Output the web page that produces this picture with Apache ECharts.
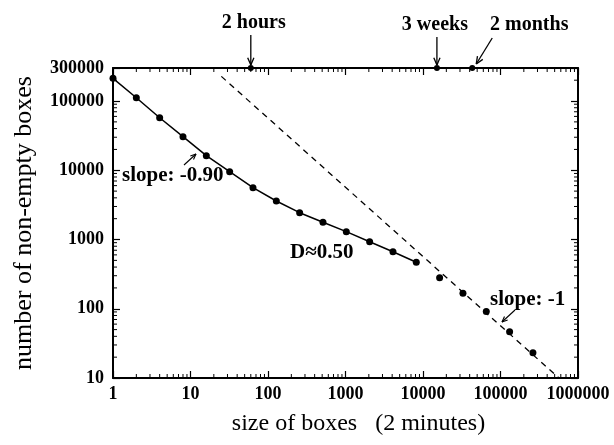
<!DOCTYPE html>
<html><head><meta charset="utf-8">
<script src="https://cdn.jsdelivr.net/npm/echarts@6/dist/echarts.min.js"></script>
<style>html,body{margin:0;padding:0;background:#fff}#c{width:614px;height:445px}</style>
</head><body><div id="c"></div>
<script>
// ---- data ----
const boxSizes  = [1, 2, 4, 8, 16, 32, 64, 128, 256, 512, 1024, 2048, 4096, 8192];
const boxCounts = [213000, 111700, 57400, 30550, 16250, 9540, 5610, 3600, 2440, 1772, 1298, 930, 667, 469];
const tailSizes  = [16384, 32768, 65536, 131072, 262144];
const tailCounts = [281, 167, 91, 46.6, 23.2];
const fitX = [25, 568000];
const fitY = [227000, 10];
const markSizes  = [60, 15120, 43200];
const markLabels = ['2 hours', '3 weeks', '2 months'];
const xMin = 1, xMax = 1000000;
const yMin = 10, yMax = 300000;

const FONT = 'Liberation Serif';
const chart = echarts.init(document.getElementById('c'), null, {renderer: 'canvas'});

function axisBase() {
  return {
    type: 'log', logBase: 10,
    axisLine: {show: true, onZero: false, lineStyle: {color: '#000', width: 2}},
    axisTick: {show: true, inside: true, length: 7, lineStyle: {color: '#000', width: 1.2}},
    minorTick: {show: false},
    splitLine: {show: false}
  };
}
const labelStyle = {fontFamily: FONT, fontWeight: 'bold', fontSize: 18, color: '#000',
  formatter: v => String(Math.round(v))};

chart.setOption({
  animation: false,
  backgroundColor: '#fff',
  grid: {left: 113, right: 36, top: 68, bottom: 67, containLabel: false},
  xAxis: [
    Object.assign(axisBase(), {position: 'bottom', min: xMin, max: xMax,
      axisLabel: Object.assign({margin: 7}, labelStyle),
      name: 'size of boxes   (2 minutes)', nameLocation: 'middle', nameGap: 34,
      nameTextStyle: {fontFamily: FONT, fontSize: 24, color: '#000', padding: [0, 0, 0, 26]}}),
    Object.assign(axisBase(), {position: 'top', min: xMin, max: xMax, axisLabel: {show: false}})
  ],
  yAxis: [
    Object.assign(axisBase(), {position: 'left', min: yMin, max: yMax,
      axisLabel: Object.assign({margin: 9}, labelStyle),
      name: 'number of non-empty boxes', nameLocation: 'middle', nameGap: 76,
      nameTextStyle: {fontFamily: FONT, fontSize: 26, color: '#000'}}),
    Object.assign(axisBase(), {position: 'right', min: yMin, max: yMax, axisLabel: {show: false}})
  ],
  series: [
    {type: 'line', clip: false, data: boxSizes.map((x, i) => [x, boxCounts[i]]),
      symbol: 'circle', symbolSize: 7, showSymbol: true,
      lineStyle: {color: '#000', width: 1.5}, itemStyle: {color: '#000', opacity: 1}, z: 3},
    {type: 'scatter', clip: false, data: tailSizes.map((x, i) => [x, tailCounts[i]]),
      symbol: 'circle', symbolSize: 7, itemStyle: {color: '#000', opacity: 1}, z: 3},
    {type: 'line', clip: false, data: fitX.map((x, i) => [x, fitY[i]]),
      symbol: 'none', lineStyle: {color: '#000', width: 1.3, type: [6, 5]}, z: 2},
    {type: 'scatter', clip: false, data: markSizes.map(x => [x, yMax]),
      symbol: 'circle', symbolSize: 6, itemStyle: {color: '#000', opacity: 1}, z: 4}
  ]
});

// ---- decorations computed through the axes ----
const px = v => chart.convertToPixel({xAxisIndex: 0}, v);
const py = v => chart.convertToPixel({yAxisIndex: 0}, v);
const L = px(xMin), R = px(xMax), B = py(yMin), T = py(yMax);
const g = [];
const ln = (x1, y1, x2, y2, w) => g.push({type: 'line', silent: true, z: 10,
  shape: {x1, y1, x2, y2}, style: {stroke: '#000', lineWidth: w || 1}});
// minor log ticks
for (let d = 0; d < 6; d++) for (let m = 2; m <= 9; m++) {
  const x = px(m * Math.pow(10, d));
  ln(x, B, x, B - 4); ln(x, T, x, T + 4);
}
for (let d = 1; d < 6; d++) for (let m = 2; m <= 9; m++) {
  const v = m * Math.pow(10, d);
  if (v > yMax) continue;
  const y = py(v);
  ln(L, y, L + 4, y); ln(R, y, R - 4, y);
}
function arrow(x1, y1, x2, y2, head, w) {
  ln(x1, y1, x2, y2, w || 1.3);
  const a = Math.atan2(y2 - y1, x2 - x1), h = head || 7;
  ln(x2, y2, x2 - h * Math.cos(a - 0.4), y2 - h * Math.sin(a - 0.4), w || 1.3);
  ln(x2, y2, x2 - h * Math.cos(a + 0.4), y2 - h * Math.sin(a + 0.4), w || 1.3);
}
function txt(s, x, y, size, align) {
  g.push({type: 'text', silent: true, z: 10, style: {text: s, x, y,
    font: 'bold ' + size + 'px "' + FONT + '"', fill: '#000',
    align: align || 'center', verticalAlign: 'middle',
    textAlign: align || 'center', textVerticalAlign: 'middle'}});
}
// top annotations
const mx = markSizes.map(px);
arrow(mx[0], 35, mx[0], 65, 8); txt(markLabels[0], mx[0] + 3, 23, 20);
arrow(mx[1], 37, mx[1], 65, 8); txt(markLabels[1], mx[1] - 2, 25, 20);
arrow(mx[2] + 20, 38, mx[2] + 4, 64, 8); txt(markLabels[2], mx[2] + 57, 25, 20);
// in-plot annotations
txt('slope: -0.90', 122, 176, 21, 'left');
arrow(184, 165, 196, 154, 6, 1.1);
txt('D\u22480.50', 290, 253, 21, 'left');
txt('slope: -1', 490, 300, 21, 'left');
arrow(515, 310, 502, 322, 6, 1.1);

chart.setOption({graphic: g});
</script></body></html>
